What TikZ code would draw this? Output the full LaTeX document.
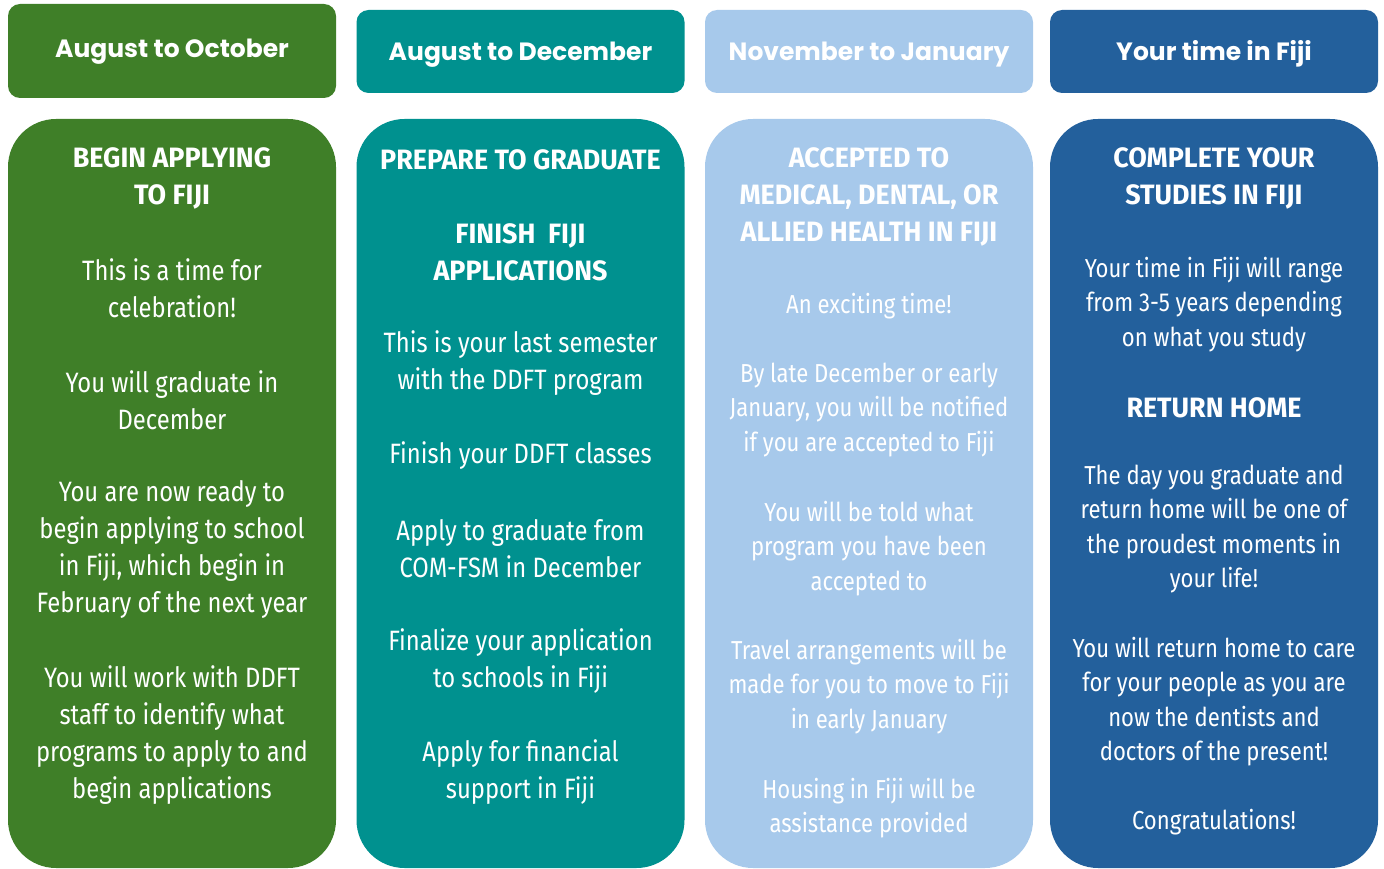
\documentclass[tikz,border=0pt]{standalone}
\usepackage{fontspec}
\setmainfont{Fira Sans}
\newfontfamily\headfont{Poppins}
\newfontfamily\ttlfont{Fira Sans}[FakeStretch=0.96]
\newfontfamily\txtfont{Fira Sans}[FakeStretch=0.85]
\definecolor{cgreen}{HTML}{3F7F28}
\definecolor{cteal}{HTML}{00918F}
\definecolor{clight}{HTML}{A7C9EB}
\definecolor{cdark}{HTML}{23609C}
\tikzset{
	headbox/.style={rounded corners=12pt,minimum width=328pt,minimum height=83pt,inner sep=0pt,text height=18pt,text depth=0pt,text=white,font=\headfont\bfseries\fontsize{25}{30}\selectfont},
	bodybox/.style={rounded corners=48pt,minimum width=328pt,minimum height=749pt,inner sep=0pt},
	ttl/.style={text=white,align=center,inner sep=0pt,yshift=-2pt,font=\ttlfont\bfseries\fontsize{28}{37}\selectfont},
	txt/.style={text=white,align=center,inner sep=0pt,font=\txtfont\fontsize{28}{37}\selectfont},
	txts/.style={text=white,align=center,inner sep=0pt,font=\txtfont\fontsize{26}{34.5}\selectfont}
}
\begin{document}
\begin{tikzpicture}[x=1pt,y=-1pt]
	\useasboundingbox (0,0) rectangle (1384,869);

	% headers
	\node [headbox,fill=cgreen,minimum height=94pt,text depth=5pt] (h1) at (172,51) {August to October};
	\node [headbox,fill=cteal] (h2) at (520.5,51.5) {August to December};
	\node [headbox,fill=clight] (h3) at (869,51.5) {November to January};
	\node [headbox,fill=cdark] (h4) at (1214,51.5) {Your time in Fiji};

	% boxes
	\node [bodybox,fill=cgreen] (b1) at (172,493.5) {};
	\node [bodybox,fill=cteal] (b2) at (520.5,493.5) {};
	\node [bodybox,fill=clight] (b3) at (869,493.5) {};
	\node [bodybox,fill=cdark] (b4) at (1214,493.5) {};

	% column 1
	\node [ttl] (t1) at (172,176.5) {BEGIN APPLYING\\TO FIJI};
	\node [txt] (p11) at (172,288) {This is a time for\\celebration!};
	\node [txt] (p12) at (172,400.5) {You will graduate in\\December};
	\node [txt] (p13) at (172,549.5) {You are now ready to\\begin applying to school\\in Fiji, which begin in\\February of the next year};
	\node [txt] (p14) at (172,735.5) {You will work with DDFT\\staff to identify what\\programs to apply to and\\begin applications};

	% column 2
	\node [ttl] (t2) at (520.5,158) {PREPARE TO GRADUATE};
	\node [ttl] (t2b) at (520.5,250.5) {FINISH \ FIJI\\APPLICATIONS};
	\node [txt] (p21) at (520.5,363) {This is your last semester\\with the DDFT program};
	\node [txt] (p22) at (520.5,456) {Finish your DDFT classes};
	\node [txt] (p23) at (520.5,548.5) {Apply to graduate from\\COM-FSM in December};
	\node [txt] (p24) at (520.5,661) {Finalize your application\\to schools in Fiji};
	\node [txt] (p25) at (520.5,772.5) {Apply for financial\\support in Fiji};

	% column 3
	\node [ttl] (t3) at (869,195) {ACCEPTED TO\\MEDICAL, DENTAL, OR\\ALLIED HEALTH IN FIJI};
	\node [txts] (p31) at (869,306) {An exciting time!};
	\node [txts] (p32) at (869,410) {By late December or early\\January, you will be notified\\if you are accepted to Fiji};
	\node [txts] (p33) at (869,548.5) {You will be told what\\program you have been\\accepted to};
	\node [txts] (p34) at (869,686.5) {Travel arrangements will be\\made for you to move to Fiji\\in early January};
	\node [txts] (p35) at (869,808) {Housing in Fiji will be\\assistance provided};

	% column 4
	\node [ttl] (t4) at (1214,176.5) {COMPLETE YOUR\\STUDIES IN FIJI};
	\node [txts] (p41) at (1214,304.5) {Your time in Fiji will range\\from 3-5 years depending\\on what you study};
	\node [ttl] (t4b) at (1214,406) {RETURN HOME};
	\node [txts] (p42) at (1214,529) {The day you graduate and\\return home will be one of\\the proudest moments in\\your life!};
	\node [txts] (p43) at (1214,701.5) {You will return home to care\\for your people as you are\\now the dentists and\\doctors of the present!};
	\node [txts] (p44) at (1214,822) {Congratulations!};
\end{tikzpicture}
\end{document}
